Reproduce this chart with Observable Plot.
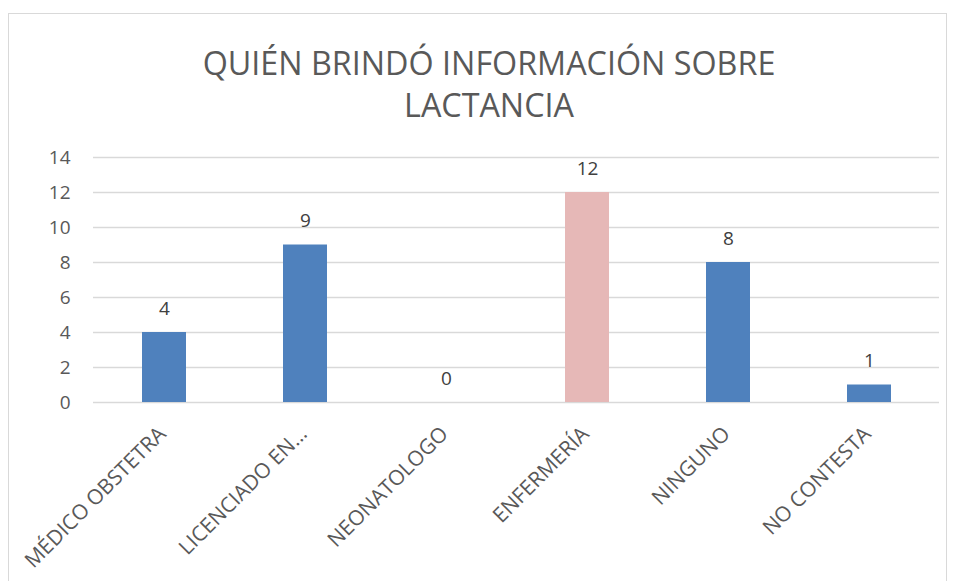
<!DOCTYPE html>
<html>
<head>
<meta charset="utf-8">
<script src="https://cdn.jsdelivr.net/npm/d3@7"></script>
<script src="https://cdn.jsdelivr.net/npm/@observablehq/plot@0.6"></script>
<style>
  html, body { margin: 0; padding: 0; background: #fff; overflow: hidden; }
  body { width: 956px; height: 581px; position: relative; font-family: "Open Sans", sans-serif; }
  #frame { position: absolute; left: 8px; top: 13px; width: 939px; height: 620px; border: 1px solid #d9d9d9; box-sizing: border-box; pointer-events: none; }
  #title { height: 130px; box-sizing: border-box; padding-top: 41px; padding-left: 22px; text-align: center; font-size: 32.3px; line-height: 42px; font-weight: 400; color: #595959; }
  #chart svg { display: block; }
</style>
</head>
<body>
<div id="frame"></div>
<div id="title">QUIÉN BRINDÓ INFORMACIÓN SOBRE<br>LACTANCIA</div>
<div id="chart"></div>
<script>
const categories = ["MÉDICO OBSTETRA", "LICENCIADO EN…", "NEONATOLOGO", "ENFERMERÍA", "NINGUNO", "NO CONTESTA"];
const values = [4, 9, 0, 12, 8, 1];
const highlighted = ["ENFERMERÍA"];
const yTicks = [0, 2, 4, 6, 8, 10, 12, 14];

const data = categories.map((c, i) => ({category: c, value: values[i]}));

const plot = Plot.plot({
  width: 956,
  height: 451,
  marginLeft: 93,
  marginRight: 17,
  marginTop: 27,
  marginBottom: 179,
  style: {fontFamily: "'Open Sans', sans-serif", background: "transparent"},
  x: {domain: categories, paddingInner: 0.688, paddingOuter: 0.344, label: null},
  y: {domain: [0, 14], label: null},
  marks: [
    Plot.ruleY(yTicks, {stroke: "#d9d9d9", strokeWidth: 1.5}),
    Plot.barY(data, {
      x: "category",
      y: "value",
      fill: d => highlighted.includes(d.category) ? "#e6b8b7" : "#4f81bd"
    }),
    Plot.text(data, {
      x: "category",
      y: "value",
      text: d => String(d.value),
      lineAnchor: "bottom",
      dy: -18,
      fontSize: 19,
      fill: "#404040"
    }),
    Plot.axisY({ticks: yTicks, tickSize: 0, tickPadding: 23, fontSize: 19, color: "#595959", label: null}),
    Plot.axisX({tickSize: 0, tickPadding: 28, tickRotate: -45, textAnchor: "end", lineAnchor: "middle", dx: -2, fontSize: 21, color: "#595959", label: null})
  ]
});
document.getElementById("chart").appendChild(plot);
</script>
</body>
</html>
